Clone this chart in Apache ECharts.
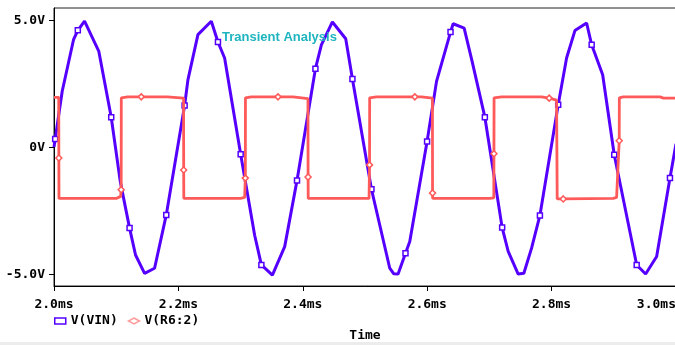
<!DOCTYPE html>
<html>
<head>
<meta charset="utf-8">
<script src="https://cdn.jsdelivr.net/npm/echarts@6/dist/echarts.min.js"></script>
<style>
html,body{margin:0;padding:0;background:#fff;overflow:hidden;}
#chart{width:675px;height:345px;}
</style>
</head>
<body>
<div id="chart"></div>
<script>
// ---- data ----
var xTicks = [2.0, 2.2, 2.4, 2.6, 2.8, 3.0];
var yTicks = [-5, 0, 5];
var seriesNames = ['V(VIN)', 'V(R6:2)'];
var chartTitle = 'Transient Analysis';
var axisTitle = 'Time';

var vinTime = [2.0000, 2.0019, 2.0132, 2.0314, 2.0383, 2.0491, 2.0721, 2.0920, 2.1065, 2.1215,
  2.1311, 2.1456, 2.1617, 2.1805, 2.2100, 2.2153, 2.2314, 2.2529, 2.2636, 2.2743,
  2.3001, 2.3226, 2.3334, 2.3511, 2.3709, 2.3907, 2.4203, 2.4299, 2.4476, 2.4690,
  2.4798, 2.5104, 2.5398, 2.5463, 2.5532, 2.5651, 2.5720, 2.5998, 2.6150, 2.6375,
  2.6417, 2.6594, 2.6722, 2.6927, 2.7205, 2.7302, 2.7463, 2.7554, 2.7678, 2.7812,
  2.8106, 2.8241, 2.8375, 2.8563, 2.8644, 2.8821, 2.9007, 2.9368, 2.9512, 2.9689,
  2.9903, 3.0000];
var vinVolt = [0.02, 0.34, 2.22, 4.25, 4.62, 4.98, 3.79, 1.20, -1.33, -3.17,
  -4.23, -4.95, -4.75, -2.65, 1.66, 2.67, 4.45, 4.98, 4.16, 3.53,
  -0.26, -3.45, -4.62, -5.02, -3.90, -1.29, 3.11, 4.05, 4.95, 4.29,
  2.70, -1.64, -4.75, -4.97, -4.98, -4.16, -3.70, 0.24, 2.61, 4.55,
  4.88, 4.71, 3.40, 1.20, -3.15, -4.09, -4.98, -4.95, -3.96, -2.67,
  1.69, 3.53, 4.61, 4.91, 4.05, 2.87, -0.28, -4.62, -4.98, -4.29,
  -1.20, 0.15];
var vinMark = [0,1,0,0,1,0,0,1,0,1, 0,0,0,1,1,0,0,0,1,0, 1,0,1,0,0,1,1,0,0,0,
  1,1,0,0,0,1,0,1,0,1, 0,0,0,1,1,0,0,0,0,1, 1,0,0,0,1,0,1,1,0,0, 1,0];

var r6Time = [2.0000, 2.0076, 2.0078, 2.0080, 2.1001, 2.1072, 2.1080, 2.1082, 2.1187, 2.1403,
  2.1820, 2.1831, 2.2083, 2.2085, 2.2087, 2.3000, 2.3065, 2.3076, 2.3078, 2.3173,
  2.3601, 2.3842, 2.3850, 2.4083, 2.4085, 2.4087, 2.5065, 2.5073, 2.5075, 2.5184,
  2.5801, 2.5908, 2.5915, 2.6084, 2.6086, 2.6088, 2.7007, 2.7071, 2.7073, 2.7075,
  2.7195, 2.7839, 2.7850, 2.7961, 2.8080, 2.8090, 2.8187, 2.8991, 2.9045, 2.9087,
  2.9089, 2.9152, 2.9743, 2.9797, 3.0000];
var r6Volt = [1.98, 1.98, -0.41, -2.00, -2.00, -1.92, -1.66, 1.96, 2.00, 2.00,
  2.00, 1.95, 1.95, -0.88, -2.00, -2.00, -1.96, -1.20, 1.96, 2.00,
  2.00, 2.00, 1.93, 1.93, -1.16, -2.00, -2.00, -0.68, 1.96, 2.00,
  2.00, 2.00, 1.95, 1.95, -1.79, -2.00, -2.00, -1.98, -0.24, 1.96,
  2.00, 2.00, 1.95, 1.95, 1.87, -2.02, -2.02, -2.00, -1.96, 0.27,
  1.96, 2.00, 2.00, 1.95, 1.95];
var r6Mark = [0,0,1,0,0,0,1,0,0,1, 0,0,0,1,0,0,0,1,0,0, 1,0,0,0,1,0,0,1,0,0,
  1,0,0,0,1,0,0,0,1,0, 0,0,0,1,0,0,1,0,0,1, 0,0,0,0,0];

// ---- styling ----
var BLUE = '#5500ff';
var RED = '#ff5a5a';
var MONO = '"DejaVu Sans Mono", monospace';

function buildData(ts, vs, marks, sym) {
  var out = [];
  for (var i = 0; i < ts.length; i++) {
    var item = { value: [ts[i], vs[i]] };
    if (marks[i]) item.symbol = sym;
    out.push(item);
  }
  return out;
}

var chart = echarts.init(document.getElementById('chart'), null, {renderer: 'canvas'});
chart.setOption({
  animation: false,
  backgroundColor: '#fff',
  title: {
    text: chartTitle,
    left: 222, top: 31, padding: 0,
    textStyle: {color: '#1fb5c0', fontSize: 13, fontWeight: 'bold', fontFamily: '"Liberation Sans", Arial, sans-serif'}
  },
  legend: {
    left: 54, top: 314, padding: 0,
    itemWidth: 11, itemHeight: 6, itemGap: 10,
    symbolKeepAspect: true,
    textStyle: {color: '#000', fontSize: 13, fontWeight: 'bold', fontFamily: MONO, lineHeight: 14},
    data: [
      {name: seriesNames[0], icon: 'rect', itemStyle: {color: '#fff', borderColor: BLUE, borderWidth: 1.5}},
      {name: seriesNames[1], icon: 'diamond', itemStyle: {color: '#fff', borderColor: '#ff9a9a', borderWidth: 1.5}}
    ]
  },
  grid: {
    left: 54, right: -1, top: 8, bottom: 59,
    outerBoundsMode: 'none', containLabel: false,
    show: true, borderColor: '#222', borderWidth: 1, backgroundColor: 'transparent'
  },
  xAxis: {
    type: 'value', min: 2, max: 3, interval: 0.2,
    name: axisTitle, nameLocation: 'middle', nameGap: 43,
    nameTextStyle: {color: '#000', fontSize: 13, fontWeight: 'bold', fontFamily: MONO},
    axisLine: {show: true, onZero: false, lineStyle: {color: '#000', width: 1}},
    axisTick: {show: true, length: 5, inside: false, lineStyle: {color: '#000'}},
    axisLabel: {
      color: '#000', fontSize: 13, fontWeight: 'bold', fontFamily: MONO, margin: 12,
      alignMinLabel: 'center', alignMaxLabel: 'right',
      formatter: function (v) { return v.toFixed(1) + 'ms'; }
    },
    splitLine: {show: false}
  },
  yAxis: {
    type: 'value', min: -5.45, max: 5.5,
    axisLine: {show: true, onZero: false, lineStyle: {color: '#000', width: 1}},
    axisTick: {show: true, length: 5, inside: false, customValues: yTicks, lineStyle: {color: '#000'}},
    axisLabel: {
      color: '#000', fontSize: 13, fontWeight: 'bold', fontFamily: MONO, margin: 9,
      customValues: yTicks,
      formatter: function (v) { return v === 0 ? '0V' : v.toFixed(1) + 'V'; }
    },
    splitLine: {show: false}
  },
  series: [
    {
      name: seriesNames[0], type: 'line',
      data: buildData(vinTime, vinVolt, vinMark, 'rect'),
      symbol: 'none', symbolSize: 5, showSymbol: true, showAllSymbol: true,
      lineStyle: {color: BLUE, width: 3},
      itemStyle: {color: '#fff', borderColor: BLUE, borderWidth: 1.5},
      z: 2, silent: true
    },
    {
      name: seriesNames[1], type: 'line',
      data: buildData(r6Time, r6Volt, r6Mark, 'diamond'),
      symbol: 'none', symbolSize: 6, showSymbol: true, showAllSymbol: true,
      lineStyle: {color: RED, width: 2.8},
      itemStyle: {color: '#fff', borderColor: RED, borderWidth: 1.5},
      z: 3, silent: true
    }
  ],
  graphic: [
    {type: 'rect', left: 0, top: 342, shape: {width: 675, height: 3}, style: {fill: '#ececec'}, silent: true}
  ]
});
</script>
</body>
</html>
